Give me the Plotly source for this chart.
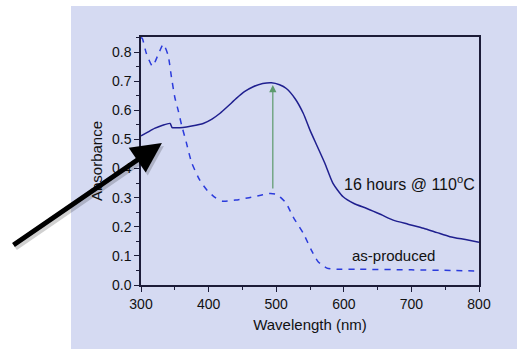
import plotly.graph_objects as go

# as-produced (dashed)
wl_asprod = [300, 302, 308, 317, 326, 333, 340, 345, 350, 355, 360, 367, 375, 387, 398, 410, 421,
             440, 460, 480, 490, 500, 506, 515, 525, 540, 552, 562, 575, 590, 620, 700, 760, 800]
abs_asprod = [0.85, 0.847, 0.795, 0.752, 0.795, 0.827, 0.79, 0.715, 0.645, 0.60, 0.55, 0.49, 0.42,
              0.36, 0.325, 0.30, 0.288, 0.292, 0.30, 0.31, 0.314, 0.312, 0.302, 0.28, 0.234, 0.178,
              0.12, 0.08, 0.058, 0.054, 0.054, 0.052, 0.05, 0.048]

# 16 hours @ 110 C (solid)
wl_heated = [300, 310, 320, 332, 343, 346, 350, 362, 375, 392, 405, 417, 429, 441, 453, 466, 480,
             493, 505, 515, 528, 540, 550, 560, 572, 584, 599, 615, 634, 655, 673, 695, 718, 738,
             757, 780, 800]
abs_heated = [0.512, 0.525, 0.538, 0.549, 0.555, 0.541, 0.540, 0.541, 0.546, 0.555, 0.570, 0.59,
              0.615, 0.641, 0.664, 0.681, 0.692, 0.695, 0.688, 0.675, 0.64, 0.59, 0.532, 0.48,
              0.418, 0.349, 0.303, 0.28, 0.263, 0.242, 0.223, 0.209, 0.195, 0.18, 0.166, 0.156,
              0.147]

x_ticks = [300, 400, 500, 600, 700, 800]
y_ticks = [0.0, 0.1, 0.2, 0.3, 0.4, 0.5, 0.6, 0.7, 0.8]

arrow_wl = 495
arrow_from = 0.326
arrow_to = 0.687

panel = "#d5daf2"
frame = "#1c1c38"
font = "Liberation Sans, Arial, sans-serif"

fig = go.Figure()
fig.add_trace(go.Scatter(x=wl_heated, y=abs_heated, mode="lines",
                         line=dict(color="#1f1f8f", width=1.5, shape="spline", smoothing=0.6),
                         showlegend=False, hoverinfo="skip"))
fig.add_trace(go.Scatter(x=wl_asprod, y=abs_asprod, mode="lines",
                         line=dict(color="#2b3bdc", width=1.5, dash="6px,6px", shape="spline", smoothing=0.6),
                         showlegend=False, hoverinfo="skip"))

# panel background
fig.add_shape(type="rect", xref="paper", yref="paper",
              x0=-70 / 338, x1=(517 - 141) / 338, y0=-64 / 248, y1=(248 + 31) / 248,
              fillcolor=panel, line=dict(width=0), layer="below")

# green arrow
fig.add_annotation(x=arrow_wl, y=arrow_to, ax=arrow_wl, ay=arrow_from, xref="x", yref="y",
                   axref="x", ayref="y", showarrow=True, arrowhead=2, arrowsize=1.2,
                   arrowwidth=1.2, arrowcolor="#5c9a6c", text="")

# black pointer arrow (shadow + arrow)
fig.add_annotation(x=331, y=0.4876, ax=-150, ay=103, xref="x", yref="y", axref="pixel", ayref="pixel",
                   xshift=2, yshift=-3, showarrow=True, arrowhead=2, arrowsize=1.2, arrowwidth=5,
                   arrowcolor="rgba(0,0,0,0.18)", text="")
fig.add_annotation(x=331, y=0.4876, ax=-150, ay=103, xref="x", yref="y", axref="pixel", ayref="pixel",
                   showarrow=True, arrowhead=2, arrowsize=1.2, arrowwidth=5,
                   arrowcolor="#000000", text="")

fig.add_annotation(x=697, y=0.35, xref="x", yref="y", showarrow=False,
                   text="16 hours @ 110<sup>o</sup>C", font=dict(family=font, size=16, color="#111"))
fig.add_annotation(x=673, y=0.103, xref="x", yref="y", showarrow=False,
                   text="as-produced", font=dict(family=font, size=15, color="#111"))

axis_common = dict(showline=True, linecolor=frame, linewidth=1.5, mirror=True,
                   ticks="outside", ticklen=5, tickwidth=1.2, tickcolor=frame,
                   showgrid=False, zeroline=False,
                   tickfont=dict(family=font, size=14, color="#111"))

fig.update_xaxes(range=[300, 800], tickvals=x_ticks,
                 minor=dict(ticks="outside", ticklen=3, tickcolor=frame, dtick=50, tick0=300),
                 title=dict(text="Wavelength (nm)", font=dict(family=font, size=15, color="#111"), standoff=9),
                 **axis_common)
fig.update_yaxes(range=[0, 0.852], tickvals=y_ticks, tickformat=".1f",
                 minor=dict(ticks="outside", ticklen=3, tickcolor=frame, dtick=0.05, tick0=0),
                 title=dict(text="Absorbance", font=dict(family=font, size=15, color="#111"), standoff=6),
                 **axis_common)

fig.update_layout(width=517, height=349, margin=dict(l=141, r=38, t=37, b=64),
                  paper_bgcolor="white", plot_bgcolor=panel, showlegend=False)

fig.write_html("out.html", post_script="document.body.style.margin='0';",
               config={"displayModeBar": False})
